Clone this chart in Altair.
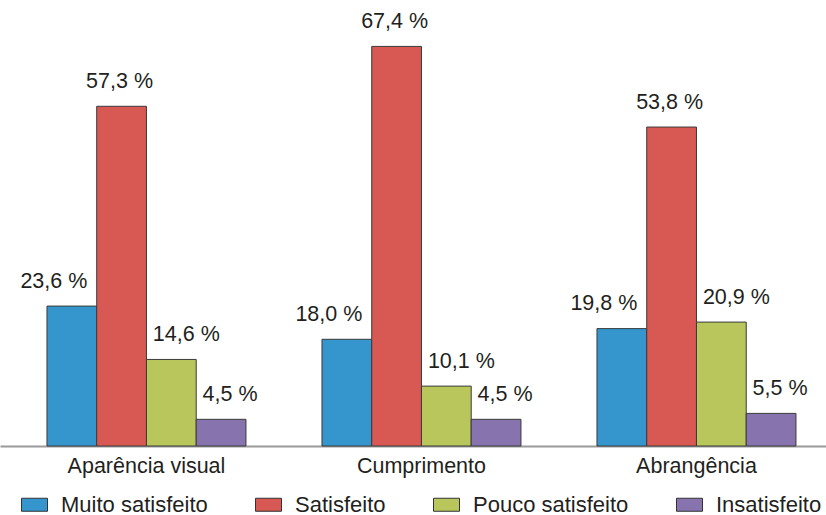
import altair as alt
import pandas as pd

categories = ["Aparência visual", "Cumprimento", "Abrangência"]
series = ["Muito satisfeito", "Satisfeito", "Pouco satisfeito", "Insatisfeito"]
muito_satisfeito = [23.6, 18.0, 19.8]
satisfeito = [57.3, 67.4, 53.8]
pouco_satisfeito = [14.6, 10.1, 20.9]
insatisfeito = [4.5, 4.5, 5.5]
colors = ["#3596cd", "#d85953", "#b9c65c", "#8774ae"]
label_dx = [-18, -2, 15, 9]

rows = []
for s, vals in zip(series, [muito_satisfeito, satisfeito, pouco_satisfeito, insatisfeito]):
    for c, v in zip(categories, vals):
        rows.append({"categoria": c, "serie": s, "valor": v,
                     "rotulo": f"{v:.1f} %".replace(".", ",")})
df = pd.DataFrame(rows)

FONT = "Liberation Sans"
TEXT = "#231f20"

x = alt.X("categoria:N", sort=categories,
          scale=alt.Scale(paddingInner=0.2764, paddingOuter=0.14, align=0.61),
          axis=alt.Axis(title=None, labelAngle=0, ticks=False, domainColor="#9a9a9a",
                        domainWidth=2, labelFontSize=21.5, labelColor=TEXT,
                        labelPadding=9, labelFont=FONT))
xo = alt.XOffset("serie:N", sort=series, scale=alt.Scale(paddingInner=0, paddingOuter=0))
y = alt.Y("valor:Q", scale=alt.Scale(domain=[0, 70], nice=False), axis=None)
color = alt.Color("serie:N", sort=series,
                  scale=alt.Scale(domain=series, range=colors),
                  legend=alt.Legend(title=None, orient="none", legendX=21, legendY=460,
                                    direction="horizontal", columns=4,
                                    labelFontSize=22, labelFont=FONT, labelColor=TEXT,
                                    symbolType="M-1,-0.5L1,-0.5L1,0.5L-1,0.5Z",
                                    symbolSize=676, symbolStrokeColor="#333333",
                                    symbolStrokeWidth=1, symbolOpacity=1,
                                    labelOffset=13, columnPadding=45))

base = alt.Chart(df)
bars = base.mark_bar(stroke="#3a3a3a", strokeWidth=1).encode(x=x, xOffset=xo, y=y, color=color)

layers = [bars]
for s, d in zip(series, label_dx):
    layers.append(
        base.transform_filter(alt.datum.serie == s)
        .mark_text(dx=d, dy=-18.5, baseline="alphabetic", align="center",
                   fontSize=21.5, font=FONT, color=TEXT)
        .encode(x=x, xOffset=xo, y=y, text="rotulo:N")
    )

chart = alt.layer(*layers).properties(
    width=826, height=415,
    background="white",
    autosize=alt.AutoSizeParams(type="none"),
    padding={"left": 0, "top": 31, "right": 0, "bottom": 69},
).configure_view(stroke=None)

chart.save("out.html", embed_options={"renderer": "svg", "actions": False})
